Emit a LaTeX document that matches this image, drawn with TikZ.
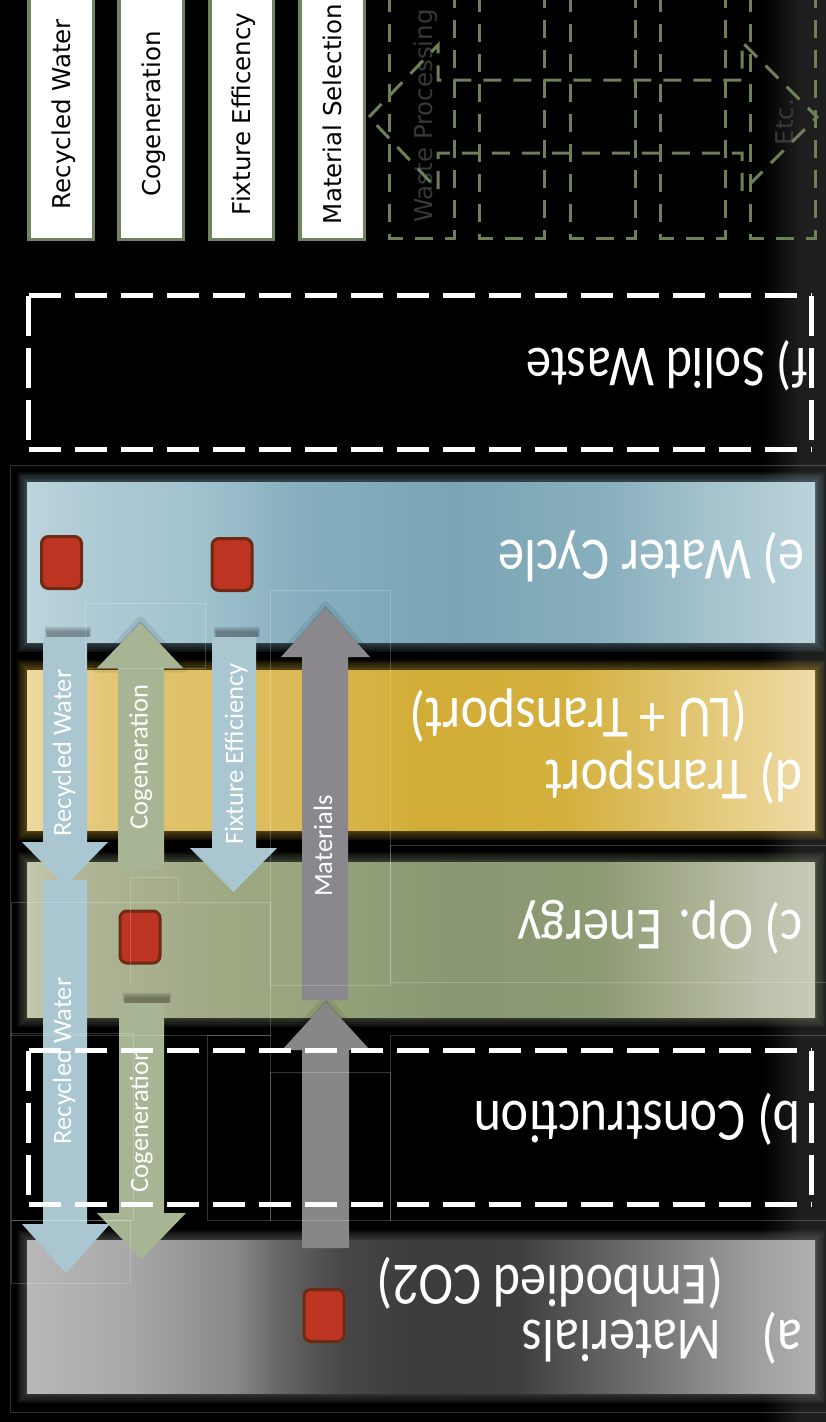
\documentclass[tikz,border=0pt]{standalone}
\usepackage{fontspec}
\newfontfamily\bandfont[FakeStretch=0.87]{Carlito}
\newfontfamily\tagfont{Carlito}
\newfontfamily\boxfont{DejaVu Sans}

% palette
\definecolor{boxgreen}{HTML}{71845F}
\definecolor{dashgreen}{HTML}{6E8058}
\definecolor{ghost}{HTML}{383838}
\definecolor{haze}{HTML}{1E1E1E}
\definecolor{rwblue}{HTML}{A9C6D1}
\definecolor{cogsage}{HTML}{A7B594}
\definecolor{matgray}{HTML}{8A888C}
\definecolor{matgrayb}{HTML}{878787}
\definecolor{markerred}{HTML}{BD3522}
\definecolor{markeredge}{HTML}{6E2A12}

% band shadings: the filled box spans 25bp..75bp of each shading
% water cycle band
\definecolor{wa}{HTML}{BCD4DD}\definecolor{wb}{HTML}{ADCAD5}\definecolor{wc}{HTML}{A0C2CE}
\definecolor{wd}{HTML}{86AEBE}\definecolor{we}{HTML}{7AA5B5}\definecolor{wf}{HTML}{88AFBD}
\definecolor{wg}{HTML}{A2C2CC}\definecolor{wh}{HTML}{BCD3DB}
\pgfdeclarehorizontalshading{watershade}{100bp}{color(0bp)=(wa); color(25bp)=(wa); color(29.5bp)=(wb);
  color(36bp)=(wc); color(42.5bp)=(wd); color(52bp)=(we); color(61.5bp)=(wf); color(68bp)=(wg);
  color(75bp)=(wh); color(100bp)=(wh)}
% transport band
\definecolor{ta}{HTML}{EDD9A0}\definecolor{tb}{HTML}{E3C677}\definecolor{tc}{HTML}{DABA55}
\definecolor{td}{HTML}{D1AC36}\definecolor{te}{HTML}{D3AF3C}\definecolor{tf}{HTML}{E4CB7E}
\definecolor{tg}{HTML}{EFDCA8}
\pgfdeclarehorizontalshading{transportshade}{100bp}{color(0bp)=(ta); color(25bp)=(ta); color(30bp)=(tb);
  color(42.5bp)=(tc); color(50bp)=(td); color(59bp)=(te); color(69bp)=(tf); color(75bp)=(tg);
  color(100bp)=(tg)}
% operational energy band
\definecolor{oa}{HTML}{C3C8AC}\definecolor{ob}{HTML}{AFB595}\definecolor{oc}{HTML}{A3AC88}
\definecolor{od}{HTML}{95A37A}\definecolor{oe}{HTML}{879771}\definecolor{of}{HTML}{8E9C75}
\definecolor{og}{HTML}{A5AE8E}\definecolor{oh}{HTML}{BAC0A8}\definecolor{oi}{HTML}{C6CAB8}
\pgfdeclarehorizontalshading{energyshade}{100bp}{color(0bp)=(oa); color(25bp)=(oa); color(28.5bp)=(ob);
  color(35bp)=(oc); color(44bp)=(od); color(52.5bp)=(oe); color(61.5bp)=(of); color(66.5bp)=(og);
  color(71bp)=(oh); color(75bp)=(oi); color(100bp)=(oi)}
% materials band
\definecolor{ma}{HTML}{B8B8B8}\definecolor{mb}{HTML}{A8A8A8}\definecolor{mc}{HTML}{8A8A8A}
\definecolor{md}{HTML}{666666}\definecolor{me}{HTML}{474747}\definecolor{mf}{HTML}{3B3B3B}
\definecolor{mg}{HTML}{3E3E3E}\definecolor{mh}{HTML}{606060}\definecolor{mi}{HTML}{808080}
\definecolor{mj}{HTML}{A0A0A0}\definecolor{mk}{HTML}{B0B0B0}
\pgfdeclarehorizontalshading{materialshade}{100bp}{color(0bp)=(ma); color(25bp)=(ma); color(31.5bp)=(mb);
  color(38bp)=(mc); color(41bp)=(md); color(45bp)=(me); color(50bp)=(mf); color(56bp)=(mg);
  color(61.5bp)=(mh); color(66.5bp)=(mi); color(71.5bp)=(mj); color(75bp)=(mk); color(100bp)=(mk)}

% soft halo behind a band
\newcommand{\bandglow}[3]{%
  \foreach \k in {1,...,6}{%
    \fill[#3, fill opacity=0.08] ({27-1.7*\k},{#1-1.7*\k}) rectangle ({815+1.7*\k},{#2+1.7*\k});
  }%
}
% white dashed frame, each side drawn from its corner
\newcommand{\whiteframe}[4]{%
  \draw[wdash, dash pattern=on 32 off 14] (#1,#2) -- (#3,#2);
  \draw[wdash, dash pattern=on 32 off 14] (#1,#4) -- (#3,#4);
  \draw[wdash, dash pattern=on 40 off 12] (#1,#2) -- (#1,#4);
  \draw[wdash, dash pattern=on 40 off 12] (#3,#2) -- (#3,#4);
}
% blurred smudge at the tail of a flow
\newcommand{\tailsmudge}[3]{% left x, right x, bottom y
  \foreach \k in {0,1,2}{%
    \fill[black, fill opacity=0.12] ({#1+1-\k},{#3-6-2*\k}) rectangle ({#2-1+\k},{#3});
  }%
}

\tikzset{
  solidbox/.style={draw=boxgreen, line width=3.5, fill=white},
  greendash/.style={draw=dashgreen, line width=3, dash pattern=on 18 off 12},
  boxlabel/.style={font=\boxfont\fontsize{24.5}{28}\selectfont, text=black, rotate=90, anchor=base, inner sep=0},
  ghostlabel/.style={boxlabel, text=ghost},
  bandlabel/.style={font=\bandfont\fontsize{60}{66}\selectfont, text=white, rotate=180, anchor=base west, inner sep=0},
  arrowlabel/.style={font=\tagfont\fontsize{26.5}{30}\selectfont, text=white, rotate=90, anchor=base, inner sep=0},
  marker/.style={rectangle, rounded corners=7, fill=markerred, draw=markeredge, line width=3,
    minimum width=40, minimum height=52, inner sep=0},
  wdash/.style={draw=white, line width=5},
  frameline/.style={draw=white, draw opacity=0.2, line width=0.8},
  headshadow/.style={fill=black, fill opacity=0.16, draw=black, draw opacity=0.08, line width=9, line join=round},
}

\begin{document}
\begin{tikzpicture}[x=1pt, y=-1pt]
\useasboundingbox (0,0) rectangle (826,1422);
\fill[black] (0,0) rectangle (826,1422);
\shade[left color=black, right color=haze] (762,0) rectangle (800,1422);
\fill[haze] (800,0) rectangle (826,1422);

% ---- strategy boxes along the top
\draw[solidbox] (28.75,-10) rectangle (93.25,239.5);
\draw[solidbox] (118.75,-10) rectangle (183.25,239.5);
\draw[solidbox] (209.75,-10) rectangle (273.25,239.5);
\draw[solidbox] (299.75,-10) rectangle (364.25,239.5);
\node[boxlabel] (s1) at (70,114) {Recycled Water};
\node[boxlabel] (s2) at (160,114) {Cogeneration};
\node[boxlabel] (s3) at (250.5,114) {Fixture Efficency};
\node[boxlabel] (s4) at (341,114) {Material Selection};

% ---- placeholder boxes (dashed)
\node[ghostlabel] (wp) at (432,116) {Waste Processing};
\node[ghostlabel] (etc) at (793,122) {Etc.};
\foreach \x in {389.5,479.5,570.5,660.5,750.5}
  \draw[greendash] (\x,-6) rectangle (\x+65,238.5);
\draw[greendash] (369,117) -- (438,45) -- (438,80) -- (742,80) -- (742,42) -- (817,117)
  -- (742,192) -- (742,153) -- (438,153) -- (438,190) -- cycle;

% ---- f) solid waste
\whiteframe{28.5}{295.5}{811.5}{449}
\node[bandlabel, font=\bandfont\fontsize{58}{64}\selectfont] (fsw) at (808,348) {f) Solid Waste};

% ---- bands
\bandglow{482}{642}{wd}
\shade[shading=watershade] (27,482) rectangle (815,642);
\bandglow{670}{830}{td}
\shade[shading=transportshade] (27,670) rectangle (815,830);
\bandglow{862}{1017}{oe}
\shade[shading=energyshade] (27,862) rectangle (815,1017);
\bandglow{1240}{1393}{mc}
\shade[shading=materialshade] (27,1240) rectangle (815,1393);

\node[bandlabel] (ewc) at (805,540) {e) Water Cycle};
\node[bandlabel] (dt1) at (803,760) {d) Transport};
\node[bandlabel] (dt2) at (748,698) {(LU + Transport)};
\node[bandlabel] (cop) at (803,910) {c) Op. Energy};
\node[bandlabel] (am1) at (803,1320) {a)};
\node[bandlabel] (am2) at (722,1320) {Materials};
\node[bandlabel] (am3) at (724,1265) {(Embodied CO2)};

% ---- flows between the bands
% shadows under heads and at tails
\path[headshadow] (97,668) -- (140.5,621) -- (183,668) -- cycle;
\path[headshadow] (281,657) -- (325.5,606) -- (370,657) -- cycle;
\path[headshadow] (282,1050) -- (326,1000) -- (370,1050) -- cycle;
\tailsmudge{46}{90}{637}
\tailsmudge{215}{259}{637}
\tailsmudge{124}{170}{1003}

% recycled water
\fill[rwblue] (43,637) -- (87,637) -- (87,842) -- (108,842) -- (65,886) -- (22,842) -- (43,842) -- cycle;
\fill[rwblue] (43,880) -- (87,880) -- (87,1224) -- (110,1224) -- (66,1273) -- (22,1224) -- (43,1224) -- cycle;
% fixture efficiency
\fill[rwblue] (212,637) -- (256,637) -- (256,848) -- (277,848) -- (233.5,892) -- (190,848) -- (212,848) -- cycle;
% cogeneration
\fill[cogsage] (118,870) -- (164,870) -- (164,668) -- (183,668) -- (140.5,623) -- (97,668) -- (118,668) -- cycle;
\fill[cogsage] (119,1003) -- (164,1003) -- (164,1213) -- (186,1213) -- (141.5,1259) -- (97,1213) -- (119,1213) -- cycle;
% materials
\fill[matgray] (302,1000) -- (348,1000) -- (348,657) -- (370,657) -- (325.5,608) -- (281,657) -- (302,657) -- cycle;
\fill[matgrayb] (302,1248) -- (349,1248) -- (349,1050) -- (370,1050) -- (326,1002) -- (282,1050) -- (302,1050) -- cycle;

\node[arrowlabel] (rw1) at (71,753) {Recycled Water};
\node[arrowlabel] (cg1) at (147.5,757) {Cogeneration};
\node[arrowlabel] (fx1) at (243,754) {Fixture Efficiency};
\node[arrowlabel] (mt1) at (332,846) {Materials};
\node[arrowlabel] (rw2) at (71,1061) {Recycled Water};
\node[arrowlabel] (cg2) at (148,1120) {Cogeneration};

% ---- CO2 markers
\node[marker] (m1) at (61.5,562.5) {};
\node[marker] (m2) at (232,564.5) {};
\node[marker] (m3) at (140,937) {};
\node[marker] (m4) at (324,1315.5) {};

% ---- b) construction
\whiteframe{28.5}{1050.5}{811.5}{1204.5}
\node[bandlabel] (bcon) at (801,1101) {b) Construction};

% ---- thin picture frames
\draw[frameline] (10,465) rectangle (826,1412);
\draw[frameline] (85,603) rectangle (205,668);
\draw[frameline] (270,590) rectangle (390,985);
\draw[frameline] (390,845) rectangle (826,982);
\draw[frameline] (11,902) rectangle (270,1035);
\draw[frameline] (130,983) -- (130,877) -- (178,877) -- (178,902);
\draw[frameline] (207,1035) rectangle (270,1220);
\draw[frameline] (270,1072) rectangle (390,1220);
\draw[frameline] (390,1035) rectangle (826,1220);
\draw[frameline] (11,1033) rectangle (133,1220);
\draw[frameline] (11,1220) rectangle (130,1283);
\end{tikzpicture}
\end{document}
